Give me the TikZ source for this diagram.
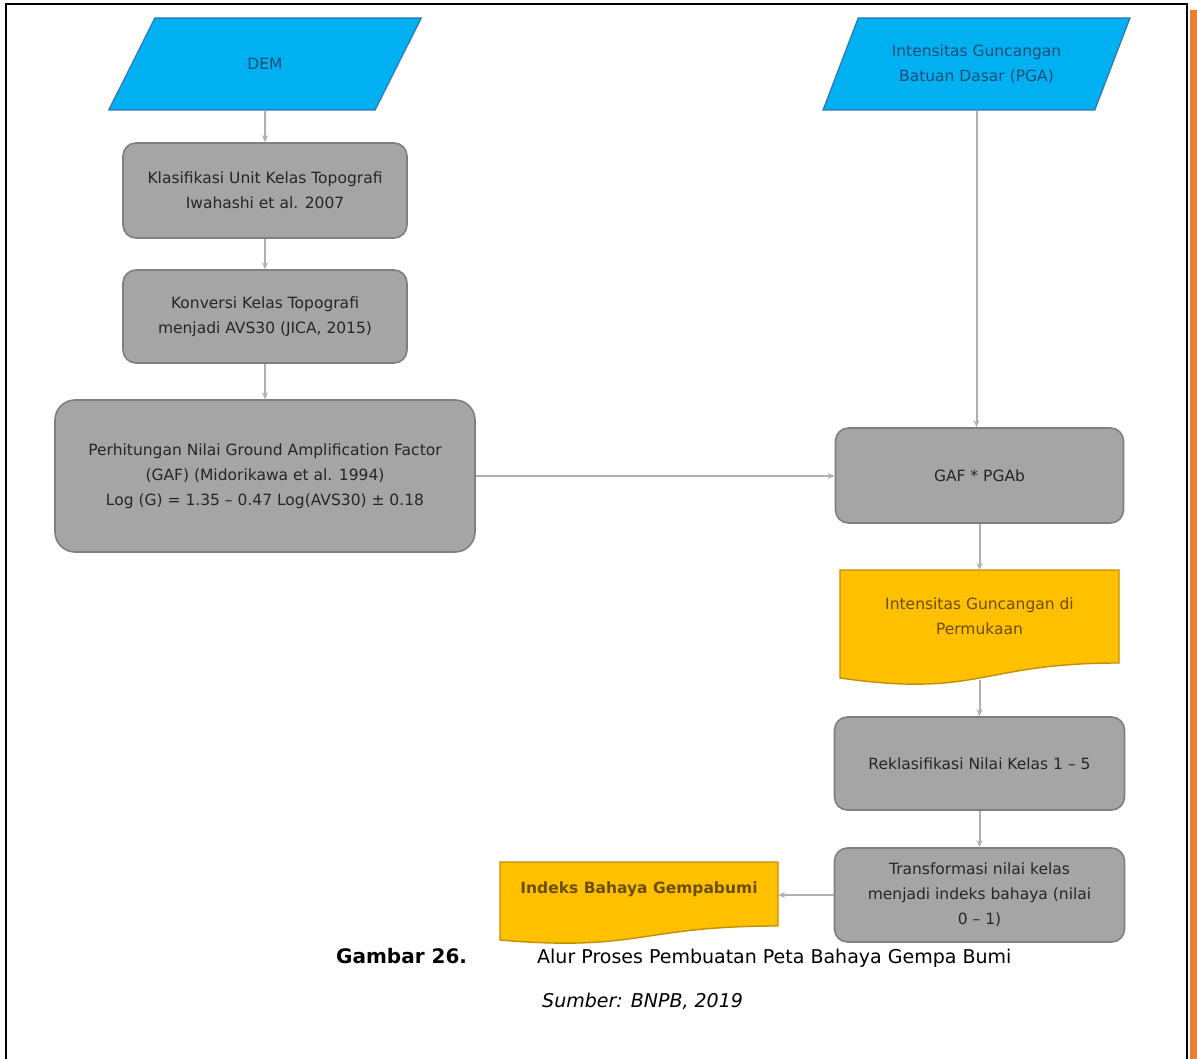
\documentclass[tikz,border=0pt]{standalone}
\usepackage{fontspec}
\setmainfont{DejaVu Sans}
\usetikzlibrary{shapes.geometric,arrows.meta}
\definecolor{cyanfill}{HTML}{00B0F0}
\definecolor{cyanedge}{HTML}{2E75B6}
\definecolor{paratext}{HTML}{1F4E79}
\definecolor{grayfill}{HTML}{A5A5A5}
\definecolor{grayedge}{HTML}{7F7F7F}
\definecolor{graytext}{HTML}{262626}
\definecolor{yelfill}{HTML}{FFC000}
\definecolor{yeledge}{HTML}{BF9000}
\definecolor{yeltext}{HTML}{6B4E00}
\definecolor{connc}{HTML}{B0B0B0}
\definecolor{orangebar}{HTML}{ED7D31}
\begin{document}
\begin{tikzpicture}[x=1pt,y=-1pt,
  boxfont/.style={font=\fontsize{15.5}{25}\selectfont},
  para/.style={trapezium, trapezium left angle=57, trapezium right angle=123,
    trapezium stretches=true, fill=cyanfill, draw=cyanedge, line width=1.2pt,
    text=paratext, boxfont, align=center, inner sep=0pt, minimum height=92pt},
  graybox/.style={rectangle, rounded corners=13pt, fill=grayfill, draw=grayedge,
    line width=1.6pt, text=graytext, boxfont, align=center, inner sep=0pt},
  doctext/.style={rectangle, text=yeltext, boxfont, align=center, inner sep=0pt},
  docshape/.style={fill=yelfill, draw=yeledge, line width=1.4pt},
  conn/.style={draw=connc, line width=2pt, -{Stealth[length=7pt,width=6pt]}},
  captext/.style={anchor=base west, inner sep=0pt, text=black}]
\useasboundingbox (0,0) rectangle (1197,1059);
\fill[white] (0,0) rectangle (1197,1059);
% frame
\draw[line width=2pt, black] (6,1059) -- (6,4) -- (1187,4) -- (1187,1059);
\fill[orangebar] (1190,10) rectangle (1197,1059);

% left column
\node[para, minimum width=314pt] (dem) at (265,64) {DEM};
\node[graybox, minimum width=284pt, minimum height=95pt] (kls) at (265,190.5)
  {Klasifikasi Unit Kelas Topografi\\Iwahashi et al. 2007};
\node[graybox, minimum width=284pt, minimum height=93pt] (kvs) at (265,316.5)
  {Konversi Kelas Topografi\\menjadi AVS30 (JICA, 2015)};
\node[graybox, rounded corners=20pt, minimum width=420pt, minimum height=152pt] (gaf) at (265,476)
  {Perhitungan Nilai Ground Amplification Factor\\(GAF) (Midorikawa et al. 1994)\\Log (G) = 1.35 -- 0.47 Log(AVS30) ± 0.18};

% right column
\node[para, minimum width=307pt] (pga) at (976.5,64) {Intensitas Guncangan\\Batuan Dasar (PGA)};
\node[graybox, minimum width=288pt, minimum height=95pt] (mul) at (979.5,475.5) {GAF * PGAb};

\draw[docshape] (840,570) -- (1119,570) -- (1119,663)
  .. controls (979.5,663) and (979.5,698) .. (840,678) -- cycle;
\node[doctext, minimum width=279pt, minimum height=92pt] (int) at (979.5,616)
  {Intensitas Guncangan di\\Permukaan};

\node[graybox, minimum width=290pt, minimum height=93pt] (rek) at (979.5,763.5)
  {Reklasifikasi Nilai Kelas 1 -- 5};
\node[graybox, minimum width=290pt, minimum height=94pt] (trf) at (979.5,895)
  {Transformasi nilai kelas\\menjadi indeks bahaya (nilai\\0 -- 1)};

\draw[docshape] (500,862) -- (778,862) -- (778,926)
  .. controls (639,926) and (639,952) .. (500,940) -- cycle;
\node[doctext, font=\fontsize{15.5}{25}\selectfont\bfseries, minimum width=278pt, minimum height=54pt] (idx) at (639,889)
  {Indeks Bahaya Gempabumi};

% connectors
\draw[conn] (dem.south) -- (kls.north);
\draw[conn] (kls.south) -- (kvs.north);
\draw[conn] (kvs.south) -- (gaf.north);
\draw[conn] (gaf.east) -- (gaf.east -| mul.west);
\draw[conn] (pga.south) -- (pga.south |- mul.north);
\draw[conn] (mul.south) -- (int.north);
\draw[conn] ([yshift=-18pt]int.south) -- (rek.north);
\draw[conn] (rek.south) -- (trf.north);
\draw[conn] (trf.west) -- (trf.west -| idx.east);

% caption
\node[captext, font=\fontsize{20}{24}\selectfont\bfseries] (fig) at (336,963) {Gambar 26.};
\node[captext, font=\fontsize{19}{24}\selectfont] (ttl) at (537,963) {Alur Proses Pembuatan Peta Bahaya Gempa Bumi};
\node[captext, font=\fontsize{19}{22}\selectfont\itshape] (src) at (542,1007) {Sumber: BNPB, 2019};
\end{tikzpicture}
\end{document}
